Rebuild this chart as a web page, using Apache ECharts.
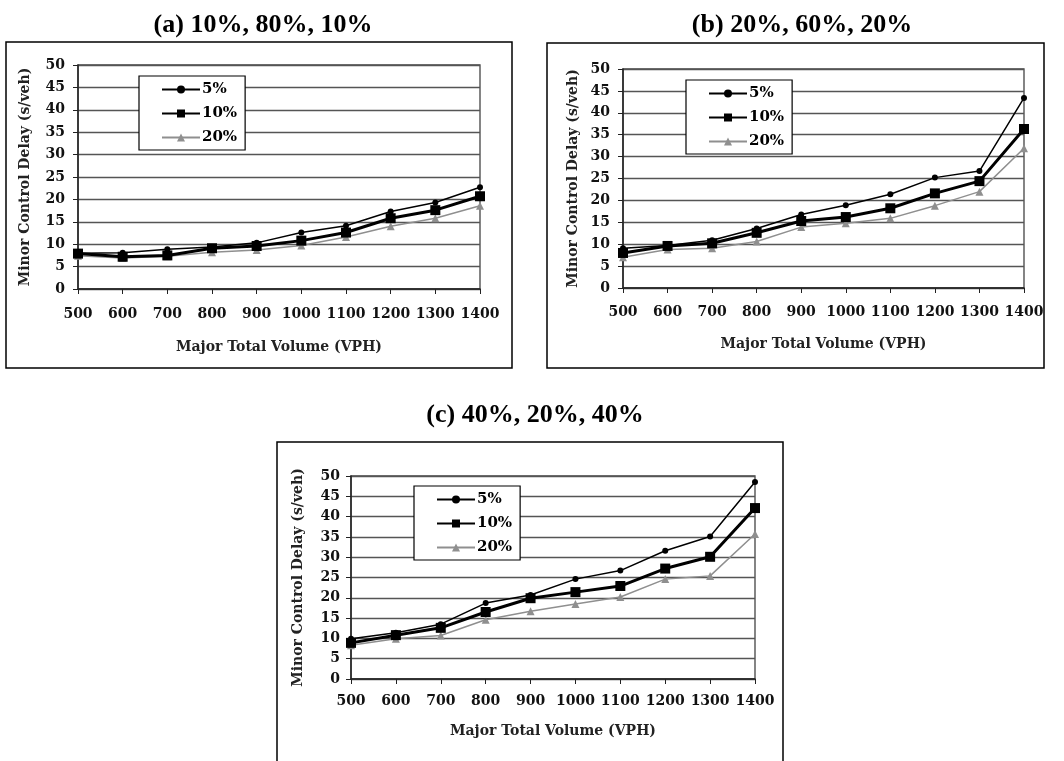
<!DOCTYPE html>
<html>
<head>
<meta charset="utf-8">
<script src="https://cdn.jsdelivr.net/npm/echarts@6/dist/echarts.min.js"></script>
<style>html,body{margin:0;padding:0;background:#fff;}#chart{width:1064px;height:761px;}</style>
</head>
<body>
<div id="chart"></div>
<script>
const categories = ['500','600','700','800','900','1000','1100','1200','1300','1400'];
const seriesNames = ['5%','10%','20%'];
const panelTitles = ['(a) 10%, 80%, 10%','(b) 20%, 60%, 20%','(c) 40%, 20%, 40%'];
const xAxisTitle = 'Major Total Volume (VPH)';
const yAxisTitle = 'Minor Control Delay (s/veh)';
const a5  = [8.0, 8.1, 8.9, 9.4, 10.3, 12.6, 14.1, 17.3, 19.3, 22.7];
const a10 = [7.9, 7.2, 7.5, 9.1, 9.6, 10.8, 12.6, 15.8, 17.6, 20.7];
const a20 = [7.4, 6.9, 7.3, 8.2, 8.7, 9.7, 11.6, 14.0, 15.8, 18.6];
const b5  = [9.1, 9.7, 10.9, 13.6, 16.8, 18.9, 21.4, 25.2, 26.7, 43.4];
const b10 = [8.0, 9.6, 10.2, 12.6, 15.3, 16.2, 18.2, 21.6, 24.4, 36.3];
const b20 = [7.0, 8.8, 9.1, 10.6, 13.9, 14.8, 15.9, 18.8, 22.0, 31.9];
const c5  = [9.9, 11.4, 13.5, 18.7, 20.7, 24.6, 26.7, 31.6, 35.1, 48.5];
const c10 = [8.9, 10.8, 12.6, 16.5, 19.9, 21.4, 22.9, 27.2, 30.1, 42.1];
const c20 = [8.3, 9.9, 10.7, 14.6, 16.7, 18.5, 20.2, 24.6, 25.4, 35.7];

const panelData = [[a5, a10, a20], [b5, b10, b20], [c5, c10, c20]];

const SERIF = 'DejaVu Serif';
const grids = [
  {left: 78, top: 65, width: 402, height: 224},
  {left: 623, top: 69, width: 401, height: 219},
  {left: 351, top: 476, width: 404, height: 203}
];
const frames = [
  {x: 6, y: 42, w: 506, h: 326},
  {x: 547, y: 43, w: 497, h: 325},
  {x: 277, y: 442, w: 506, h: 330}
];
const titlePos = [{x: 258, y: 7}, {x: 797, y: 7}, {x: 530, y: 397}];
const legendPos = [{x: 139, y: 76}, {x: 686, y: 80}, {x: 414, y: 486}];
const xNameGap = [51, 49, 45];
const yNameGap = [46, 43, 46];
const xLabelMargin = [18, 17, 15];
const yLabelMargin = [13, 13, 11];

const styles = [
  {symbol: 'circle', symbolSize: 6, color: '#000', width: 1.5},
  {symbol: 'rect', symbolSize: 10, color: '#000', width: 3},
  {symbol: 'triangle', symbolSize: 8, color: '#8f8f8f', width: 1.5}
];

const option = {
  animation: false,
  backgroundColor: '#fff',
  title: panelTitles.map((t, i) => ({
    text: t, left: titlePos[i].x, top: titlePos[i].y, textAlign: 'center',
    textStyle: {fontFamily: 'Liberation Serif', fontWeight: 'bold', fontSize: 26, color: '#000'}
  })),
  graphic: frames.map(f => ({
    type: 'rect', shape: {x: f.x, y: f.y, width: f.w, height: f.h},
    style: {fill: 'none', stroke: '#000', lineWidth: 1.5}, z: 0
  })),
  grid: grids.map(g => Object.assign({show: true, borderColor: '#444', borderWidth: 1.3, backgroundColor: 'transparent'}, g)),
  legend: legendPos.map(p => ({
    data: seriesNames, orient: 'vertical', left: p.x, top: p.y,
    padding: [6, 8, 5, 22], itemGap: 9, itemWidth: 38, itemHeight: 10,
    backgroundColor: '#fff', borderColor: '#000', borderWidth: 1.2,
    textStyle: {fontFamily: SERIF, fontWeight: 'bold', fontSize: 15, color: '#000', padding: [0, 0, 0, -3]},
    z: 10
  })),
  xAxis: grids.map((g, i) => ({
    type: 'category', gridIndex: i, data: categories, boundaryGap: false,
    name: xAxisTitle, nameLocation: 'middle', nameGap: xNameGap[i],
    nameTextStyle: {fontFamily: SERIF, fontWeight: 'bold', fontSize: 14, color: '#222'},
    axisLine: {lineStyle: {color: '#222', width: 1.5}},
    axisTick: {show: true, length: 5, lineStyle: {color: '#222'}, alignWithLabel: true},
    axisLabel: {fontFamily: SERIF, fontWeight: 'bold', fontSize: 14, color: '#111', margin: xLabelMargin[i], interval: 0},
    splitLine: {show: false}
  })),
  yAxis: grids.map((g, i) => ({
    type: 'value', gridIndex: i, min: 0, max: 50, interval: 5,
    name: yAxisTitle, nameLocation: 'middle', nameGap: yNameGap[i], nameRotate: 90,
    nameTextStyle: {fontFamily: SERIF, fontWeight: 'bold', fontSize: 14, color: '#222'},
    axisLine: {show: true, lineStyle: {color: '#222', width: 1.5}},
    axisTick: {show: true, length: 5, lineStyle: {color: '#222'}},
    axisLabel: {fontFamily: SERIF, fontWeight: 'bold', fontSize: 14, color: '#111', margin: yLabelMargin[i]},
    splitLine: {show: true, lineStyle: {color: '#555', width: 1.3}}
  })),
  series: []
};

panelData.forEach((set, pi) => {
  set.forEach((vals, si) => {
    const s = styles[si];
    option.series.push({
      name: seriesNames[si], type: 'line', xAxisIndex: pi, yAxisIndex: pi,
      data: vals, symbol: s.symbol, symbolSize: s.symbolSize, showSymbol: true,
      lineStyle: {color: s.color, width: s.width},
      itemStyle: {color: s.color},
      z: 3 - si
    });
  });
});

const chart = echarts.init(document.getElementById('chart'), null, {renderer: 'canvas'});
chart.setOption(option);
</script>
</body>
</html>
